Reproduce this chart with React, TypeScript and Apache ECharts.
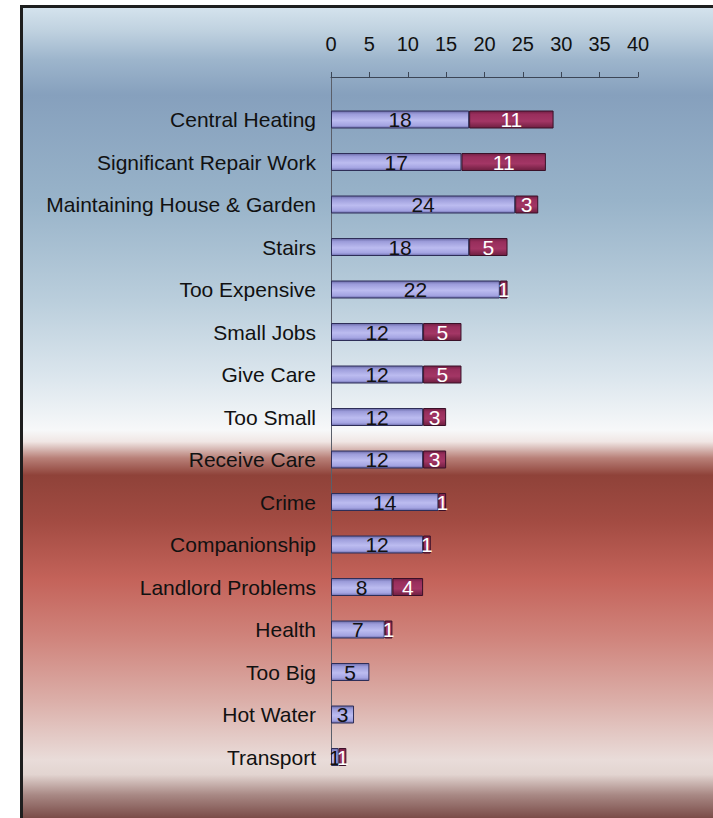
import React, { useEffect, useRef } from "react";
import * as echarts from "echarts";

const categories = [
  "Central Heating",
  "Significant Repair Work",
  "Maintaining House & Garden",
  "Stairs",
  "Too Expensive",
  "Small Jobs",
  "Give Care",
  "Too Small",
  "Receive Care",
  "Crime",
  "Companionship",
  "Landlord Problems",
  "Health",
  "Too Big",
  "Hot Water",
  "Transport",
];
const seriesA = [18, 17, 24, 18, 22, 12, 12, 12, 12, 14, 12, 8, 7, 5, 3, 1];
const seriesB = [11, 11, 3, 5, 1, 5, 5, 3, 3, 1, 1, 4, 1, null, null, 1];
const xMin = 0;
const xMax = 40;
const xStep = 5;

const FONT = "'Liberation Sans', Arial, sans-serif";

export default function App() {
  const ref = useRef<HTMLDivElement>(null);
  useEffect(() => {
    if (!ref.current) return;
    const chart = echarts.init(ref.current, null, { renderer: "svg" });
    const bgStops = [
      [0.007, "#d6e4ee"],
      [0.037, "#c0d2e0"],
      [0.073, "#9db5cc"],
      [0.116, "#86a0bd"],
      [0.245, "#98b3c9"],
      [0.367, "#bacedc"],
      [0.465, "#dde7ee"],
      [0.526, "#f7f8f9"],
      [0.54, "#f0e6e4"],
      [0.56, "#b88078"],
      [0.581, "#8f4239"],
      [0.636, "#a24b42"],
      [0.709, "#c4635a"],
      [0.782, "#d0857d"],
      [0.856, "#dbaea8"],
      [0.929, "#e9dcd9"],
      [0.947, "#e2d4d0"],
      [0.972, "#a88884"],
      [1.0, "#7a4c48"],
    ].map(([offset, color]) => ({ offset: offset as number, color: color as string }));

    const cats = ["", ...categories];
    const a = [null, ...seriesA];
    const b = [null, ...seriesB];

    chart.setOption({
      animation: false,
      graphic: [
        {
          type: "rect",
          z: -10,
          silent: true,
          shape: { x: 21.5, y: 6.5, width: 720, height: 830 },
          style: {
            fill: {
              type: "linear",
              x: 0,
              y: 0,
              x2: 0,
              y2: 818,
              global: true,
              colorStops: bgStops,
            },
            stroke: "#1e1e1e",
            lineWidth: 3,
          },
        },
      ],
      grid: { left: 331, top: 77, width: 307, height: 680, containLabel: false },
      xAxis: {
        type: "value",
        position: "top",
        min: xMin,
        max: xMax,
        interval: xStep,
        splitLine: { show: false },
        axisLine: { show: true, lineStyle: { color: "#3c4656", width: 1 } },
        axisTick: { show: true, length: 5, lineStyle: { color: "#3c4656" } },
        axisLabel: { color: "#111", fontSize: 20, fontFamily: FONT, margin: 23 },
      },
      yAxis: {
        type: "category",
        data: cats,
        inverse: true,
        boundaryGap: false,
        axisLine: { show: true, lineStyle: { color: "#5a5f6a", width: 1 } },
        axisTick: { show: false },
        axisLabel: { color: "#111", fontSize: 21, fontFamily: FONT, margin: 15 },
        splitLine: { show: false },
      },
      series: [
        {
          type: "bar",
          stack: "s",
          data: a,
          barWidth: 18,
          itemStyle: {
            color: new echarts.graphic.LinearGradient(0, 0, 0, 1, [
              { offset: 0, color: "#6a6aa8" },
              { offset: 0.18, color: "#9c9cda" },
              { offset: 0.55, color: "#bcbcf0" },
              { offset: 0.85, color: "#a4a4e2" },
              { offset: 1, color: "#6c6cac" },
            ]),
            borderColor: "#2e2e58",
            borderWidth: 1,
          },
          label: {
            show: true,
            position: "inside",
            color: "#111",
            fontSize: 21,
            fontFamily: FONT,
          },
        },
        {
          type: "bar",
          stack: "s",
          data: b,
          barWidth: 18,
          itemStyle: {
            color: new echarts.graphic.LinearGradient(0, 0, 0, 1, [
              { offset: 0, color: "#721f44" },
              { offset: 0.2, color: "#982e5c" },
              { offset: 0.6, color: "#a33665" },
              { offset: 1, color: "#6e1e40" },
            ]),
            borderColor: "#3a1028",
            borderWidth: 1,
          },
          label: {
            show: true,
            position: "inside",
            color: "#fff",
            fontSize: 21,
            fontFamily: FONT,
          },
        },
      ],
    });
    return () => chart.dispose();
  }, []);
  return (
    <div
      ref={ref}
      style={{ position: "fixed", left: 0, top: 0, width: 713, height: 818, background: "#fff" }}
    />
  );
}
